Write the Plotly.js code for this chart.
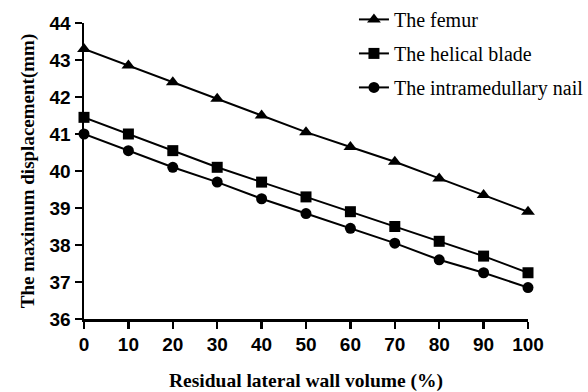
<!DOCTYPE html>
<html>
<head>
<meta charset="utf-8">
<script src="https://cdn.plot.ly/plotly-3.0.1.min.js"></script>
<style>html,body{margin:0;padding:0;background:#fff;}#chart{width:588px;height:392px;}</style>
</head>
<body>
<div id="chart"></div>
<script>
var volume = [0, 10, 20, 30, 40, 50, 60, 70, 80, 90, 100];
var femur = [43.3, 42.85, 42.4, 41.95, 41.5, 41.05, 40.65, 40.25, 39.8, 39.35, 38.9];
var helicalBlade = [41.45, 41.0, 40.55, 40.1, 39.7, 39.3, 38.9, 38.5, 38.1, 37.7, 37.25];
var nail = [41.0, 40.55, 40.1, 39.7, 39.25, 38.85, 38.45, 38.05, 37.6, 37.25, 36.85];
var seriesNames = ["The femur", "The helical blade", "The intramedullary nail"];
var xTicks = [0, 10, 20, 30, 40, 50, 60, 70, 80, 90, 100];
var yTicks = [36, 37, 38, 39, 40, 41, 42, 43, 44];

function tr(y, name, sym, size, grp) {
  return {
    x: volume, y: y, name: name, type: 'scatter', mode: 'lines+markers',
    legendgroup: grp,
    line: {color: '#000', width: 2},
    marker: {symbol: sym, size: size, color: '#000'},
    cliponaxis: false
  };
}
var data = [
  tr(femur, seriesNames[0], 'triangle-up', 12, 'a'),
  tr(helicalBlade, seriesNames[1], 'square', 11, 'b'),
  tr(nail, seriesNames[2], 'circle', 11, 'c')
];
var tickFont = {family: 'Liberation Sans, Arial, sans-serif', size: 19, color: '#000', weight: 'bold'};
var serif = 'Liberation Serif, Times New Roman, serif';
var layout = {
  width: 588, height: 392,
  margin: {l: 84, r: 60, t: 23, b: 73, autoexpand: false},
  paper_bgcolor: '#fff', plot_bgcolor: '#fff',
  showlegend: true,
  legend: {
    x: 0.608, y: 1.078, xanchor: 'left', yanchor: 'top',
    bgcolor: 'rgba(0,0,0,0)',
    font: {family: serif, size: 20, color: '#000'},
    traceorder: 'grouped', tracegroupgap: 5
  },
  xaxis: {
    range: [0, 100], tickvals: xTicks, ticktext: xTicks.map(String),
    showgrid: false, zeroline: false, showline: true, linecolor: '#000', linewidth: 2.5,
    ticks: 'outside', ticklen: 7, tickwidth: 2.5, tickcolor: '#000',
    tickfont: tickFont,
    title: {text: 'Residual lateral wall volume (%)', standoff: 19,
      font: {family: serif, size: 19.5, color: '#000', weight: 'bold'}}
  },
  yaxis: {
    range: [36, 44], tickvals: yTicks, ticktext: yTicks.map(String),
    showgrid: false, zeroline: false, showline: true, linecolor: '#000', linewidth: 2.5,
    ticks: 'outside', ticklen: 7, tickwidth: 2.5, tickcolor: '#000',
    tickfont: tickFont,
    title: {text: 'The maximum displacement(mm)', standoff: 10,
      font: {family: serif, size: 19, color: '#000', weight: 'bold'}}
  }
};
Plotly.newPlot('chart', data, layout, {displayModeBar: false, staticPlot: true});
</script>
</body>
</html>
